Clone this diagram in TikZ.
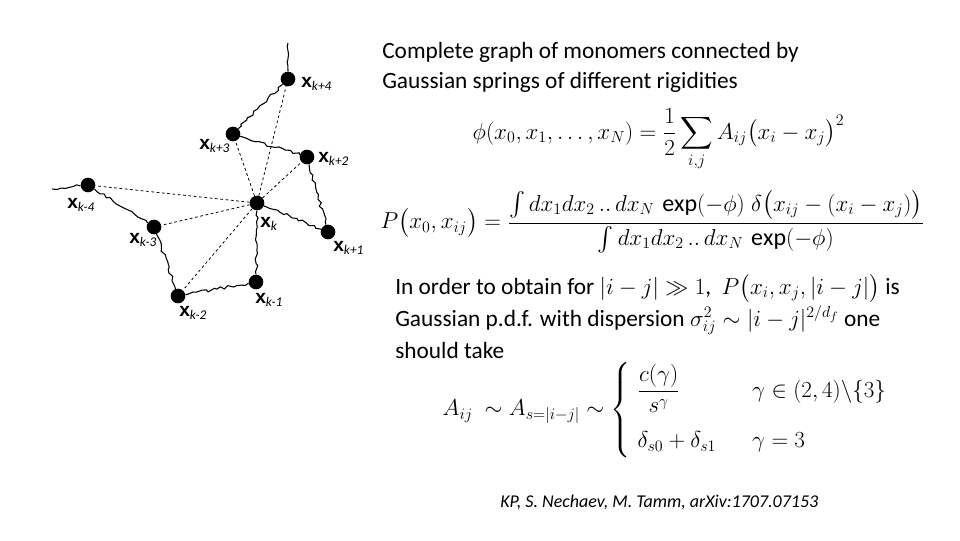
\documentclass[tikz,border=0pt]{standalone}
\usepackage{amsmath,amssymb}
\usepackage{fontspec}
\setmainfont{Carlito}
\setsansfont{Liberation Sans}
\usetikzlibrary{decorations.pathmorphing}
\begin{document}
\begin{tikzpicture}[x=0.75pt,y=-0.75pt,
  mono/.style={circle,fill=black,inner sep=0pt,minimum size=11pt},
  spring/.style={decorate,decoration={random steps,segment length=3pt,amplitude=1.2pt},line width=0.8pt},
  link/.style={dashed,dash pattern=on 2pt off 2pt,line width=0.6pt},
  lab/.style={font=\sffamily\bfseries\Large,inner sep=0pt},
  txt/.style={anchor=north west,inner sep=0pt,align=left}]
\useasboundingbox (0,0) rectangle (960,540);
\node[mono] (k4) at (288,79) {};
\node[mono] (k3) at (233,134) {};
\node[mono] (k2) at (307,157) {};
\node[mono] (k) at (257,203) {};
\node[mono] (k1) at (328,232) {};
\node[mono] (m4) at (88,185) {};
\node[mono] (m3) at (154,227) {};
\node[mono] (m2) at (178,296) {};
\node[mono] (m1) at (256,282) {};
\coordinate (top) at (288,43);
\coordinate (left) at (52,189);
\draw[spring] (top) -- (k4) -- (k3) -- (k2) -- (k1) -- (k) -- (m1) -- (m2) -- (m3) -- (m4) -- (left);
\foreach \n in {k4,k3,k2,m4,m3,m2} \draw[link] (k) -- (\n);
\node[lab,anchor=west] at (301,84) {x\textsubscript{\normalfont\itshape\normalsize k+4}};
\node[lab,anchor=west] at (199,146) {x\textsubscript{\normalfont\itshape\normalsize k+3}};
\node[lab,anchor=west] at (318,159) {x\textsubscript{\normalfont\itshape\normalsize k+2}};
\node[lab,anchor=west] at (260,224) {x\textsubscript{\normalfont\itshape\normalsize k}};
\node[lab,anchor=west] at (333,248) {x\textsubscript{\normalfont\itshape\normalsize k+1}};
\node[lab,anchor=west] at (67,205) {x\textsubscript{\normalfont\itshape\normalsize k-4}};
\node[lab,anchor=west] at (129,240) {x\textsubscript{\normalfont\itshape\normalsize k-3}};
\node[lab,anchor=west] at (179,313) {x\textsubscript{\normalfont\itshape\normalsize k-2}};
\node[lab,anchor=west] at (255,300) {x\textsubscript{\normalfont\itshape\normalsize k-1}};
\node[txt,font=\fontsize{17.5}{22.5}\selectfont] (title) at (382,42) {Complete graph of monomers connected by\\Gaussian springs of different rigidities};
\node[anchor=west,font=\fontsize{17}{20}\selectfont] (phi) at (468,140) {$\phi(x_0,x_1,\ldots,x_N)=\dfrac{1}{2}\displaystyle\sum_{i,j}A_{ij}\bigl(x_i-x_j\bigr)^2$};
\node[anchor=west,font=\fontsize{18}{20}\selectfont] (P) at (376,222) {$P\bigl(x_0,x_{ij}\bigr)=\dfrac{\int dx_1dx_2\,..\,dx_N\,\exp(-\phi)\;\delta\bigl(x_{ij}-(x_i-x_j)\bigr)}{\int dx_1dx_2\,..\,dx_N\,\exp(-\phi)}$};
\node[txt,font=\fontsize{17.5}{24}\selectfont] (body) at (395,274) {In order to obtain for $|i-j|\gg1$, \ $P\bigl(x_i,x_j,|i-j|\bigr)$ is\\Gaussian p.d.f. with dispersion $\sigma_{ij}^2\sim|i-j|^{2/d_f}$ one\\should take};
\node[anchor=west,font=\fontsize{17}{20}\selectfont] (A) at (438,410) {$A_{ij}\ \sim A_{s=|i-j|}\sim\left\{\begin{array}{ll}\dfrac{c(\gamma)}{s^\gamma} & \quad\gamma\in(2,4)\backslash\{3\}\\[18pt] \delta_{s0}+\delta_{s1} & \quad\gamma=3\end{array}\right.$};
\node[anchor=west,font=\itshape\fontsize{13.5}{15}\selectfont,inner sep=0pt] (cite) at (500,502) {KP, S. Nechaev, M. Tamm, arXiv:1707.07153};
\end{tikzpicture}
\end{document}
